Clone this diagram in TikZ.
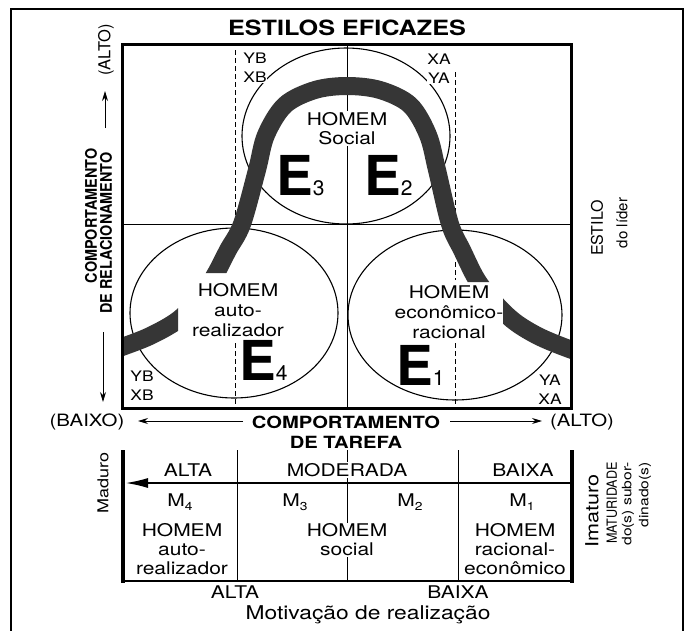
\documentclass[tikz,border=0pt]{standalone}
\usepackage{fontspec}
\setmainfont{TeX Gyre Heros}
\newfontfamily\hw[FakeStretch=1.2]{TeX Gyre Heros}
\newfontfamily\hn[FakeStretch=0.9]{TeX Gyre Heros}
\usetikzlibrary{arrows.meta}
\definecolor{bandgray}{HTML}{363636}
\newcommand\Esub[1]{{\fontsize{55}{55}\selectfont\bfseries E}{\fontsize{21}{21}\selectfont #1}}
\newcommand\Msub[1]{M{\fontsize{11.5}{11.5}\selectfont\raisebox{-4pt}{#1}}}
\tikzset{
  txt/.style={font=\hw\fontsize{17.5}{20}\selectfont, align=center, inner sep=1pt},
  txtw/.style={txt, fill=white},
  tag/.style={font=\hw\fontsize{14.5}{19}\selectfont, align=center, inner sep=0.5pt, fill=white},
  bigE/.style={anchor=base west, inner sep=0pt},
  ell/.style={line width=1.1pt},
  dsh/.style={line width=0.7pt, dash pattern=on 5pt off 3pt},
  mid/.style={line width=0.8pt},
  band/.style={line width=18pt, draw=bandgray},
  ax/.style={line width=0.9pt, -{Stealth[length=10pt,width=6pt]}},
  axlbl/.style={font=\hw\fontsize{17}{20}\selectfont, inner sep=1pt},
  axbold/.style={font=\hw\bfseries\fontsize{16.8}{20}\selectfont, align=center, inner sep=1pt},
  vbold/.style={font=\hn\bfseries\fontsize{16}{18}\selectfont, rotate=90, inner sep=1pt},
}
\begin{document}
\begin{tikzpicture}[x=1pt,y=-1pt]
\useasboundingbox (0,0) rectangle (686,630);
\fill[white] (0,0) rectangle (686,630);
\draw[line width=2pt] (11,631) -- (11,9) -- (683,9) -- (683,631);

% title
\node[font=\hw\bfseries\fontsize{21}{24}\selectfont] (title) at (347,28) {ESTILOS EFICAZES};

% ellipses
\draw[ell] (346,136) ellipse [x radius=104, y radius=88];
\draw[ell] (234,313) ellipse [x radius=104, y radius=85];
\draw[ell] (455,315) ellipse [x radius=107, y radius=85];

% dashed centre lines
\draw[dsh] (235,50) -- (235,224);
\draw[dsh] (455,72) -- (455,224);
\draw[dsh] (235,343) -- (235,406);
\draw[dsh] (455,262) -- (455,280);
\draw[dsh] (455,343) -- (455,406);

% mid lines
\draw[mid] (122,224) -- (571,224);
\draw[mid] (347,44) -- (347,408);

% band
\begin{scope}
\clip (122,44) -- (571,44) -- (571,408) -- (503,408) -- (503,282) -- (400,282) -- (400,408) -- (290,408) -- (290,273) -- (178,273) -- (178,408) -- (122,408) -- cycle;
\draw[band] plot[smooth, tension=0.55] coordinates {(105,353) (122,347) (150,336) (178,320) (200,298) (215,275) (228,250) (242,224) (257,170) (266,135) (285,105) (315,90) (347,86) (380,90) (410,105) (428,135) (437,170) (450,224) (462,250) (477,280) (495,303) (515,322) (540,337) (572,350) (590,355)};
\end{scope}

% box
\draw[line width=3pt] (122,44) rectangle (571,408);

% tags
\node[tag] (tl) at (255,67.5) {YB\\XB};
\node[tag] (tr) at (439,68.5) {XA\\YA};
\node[tag] (bl) at (142,386) {YB\\XB};
\node[tag] (br) at (550,390) {YA\\XA};

% texts in quadrants
\node[txtw, font=\hw\fontsize{17.5}{19}\selectfont] (hs) at (347,128.5) {HOMEM\\Social};
\node[bigE] (e3) at (276,195) {\Esub{3}};
\node[bigE] (e2) at (364,195) {\Esub{2}};
\node[bigE] (e4) at (239,380) {\Esub{4}};
\node[bigE] (e1) at (396,385) {\Esub{1}};
\node[txt] (hal) at (238,310) {HOMEM\\auto-\\realizador};
\node[txt] (her) at (449,312.5) {HOMEM\\econômico-\\racional};

% left axis
\coordinate (upA) at (105,128); \coordinate (upB) at (105,91);
\draw[ax] (upA) -- (upB);
\node[font=\fontsize{16.5}{18}\selectfont, rotate=90, inner sep=1pt] (altoL) at (106,50) {(ALTO)};
\node[vbold] (cr1) at (91,216) {COMPORTAMENTO};
\node[vbold] (cr2) at (106,233) {DE RELACIONAMENTO};
\coordinate (dnA) at (103,332); \coordinate (dnB) at (103,402);
\draw[ax] (dnA) -- (dnB);

% bottom axis
\node[axlbl] (baixo) at (87,422) {(BAIXO)};
\node[axbold] (ct) at (346,432) {COMPORTAMENTO\\DE TAREFA};
\node[axlbl] (altoB) at (582,422) {(ALTO)};
\coordinate (la) at (243,421); \coordinate (lb) at (138,421);
\coordinate (ra) at (450,421); \coordinate (rb) at (542,421);
\draw[ax] (la) -- (lb);
\draw[ax] (ra) -- (rb);

% right label
\node[font=\fontsize{16}{18}\selectfont, rotate=90, inner sep=1pt] (est) at (597,228) {ESTILO};
\node[font=\fontsize{15}{18}\selectfont, rotate=90, inner sep=1pt] (lid) at (622,223) {do líder};

% table
\draw[line width=4pt] (123,450) -- (123,583);
\draw[line width=4pt] (572,450) -- (572,583);
\draw[line width=1.5pt] (121,581) -- (574,581);
\draw[mid] (237,450) -- (237,581);
\draw[mid] (458,450) -- (458,581);
\draw[mid] (347,450) -- (347,581);
\coordinate (tA) at (570,483); \coordinate (tB) at (126,483);
\draw[line width=1.2pt, -{Latex[length=22pt,width=10pt]}] (tA) -- (tB);

\node[txt] (ta1) at (188,470) {ALTA};
\node[txtw] (ta2) at (347,470) {MODERADA};
\node[txt] (ta3) at (523,470) {BAIXA};
\node[txt] (m4) at (180,502) {\Msub{4}};
\node[txt] (m3) at (295,502) {\Msub{3}};
\node[txt] (m2) at (410,502) {\Msub{2}};
\node[txt] (m1) at (522,502) {\Msub{1}};
\node[txt, font=\hw\fontsize{17.5}{19}\selectfont] (h4) at (182,549) {HOMEM\\auto-\\realizador};
\node[txtw, font=\hw\fontsize{17.5}{19}\selectfont] (h3) at (347,540) {HOMEM\\social};
\node[txt, font=\hw\fontsize{17.5}{19}\selectfont] (h1) at (515,549) {HOMEM\\racional-\\econômico};
\node[txt] (lalta) at (235,592) {ALTA};
\node[txt] (lbaixa) at (458,592) {BAIXA};
\node[txt, font=\hw\fontsize{19}{22}\selectfont] (mot) at (368,615) {Motivação de realização};
\node[txt, rotate=90, font=\hw\fontsize{15}{18}\selectfont] (mad) at (103,483) {Maduro};
\node[txt, rotate=90, font=\hw\fontsize{18}{20}\selectfont] (ima) at (592,511) {Imaturo};
\node[rotate=90, anchor=east, font=\hn\fontsize{14}{16}\selectfont, inner sep=0pt] (mat) at (612,462) {MATURIDADE};
\node[rotate=90, anchor=east, font=\hw\fontsize{13}{16}\selectfont, inner sep=0pt] (ds) at (628,462) {do(s) subor-};
\node[rotate=90, anchor=east, font=\hw\fontsize{13}{16}\selectfont, inner sep=0pt] (din) at (645,462) {dinado(s)};
\end{tikzpicture}
\end{document}
